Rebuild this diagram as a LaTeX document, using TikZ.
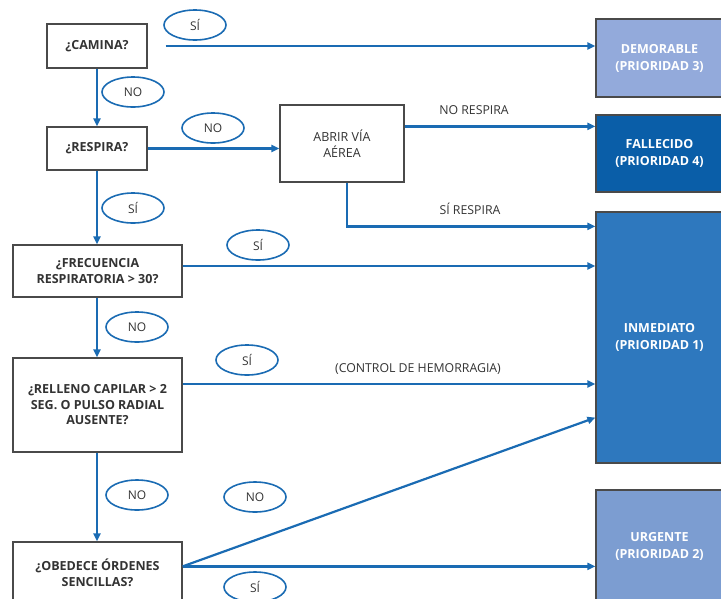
\documentclass[tikz,border=0pt]{standalone}
\usepackage{fontspec}
\setmainfont{Open Sans}
\usetikzlibrary{arrows.meta,shapes.geometric,calc}
\definecolor{flow}{HTML}{1A6BB3}
\definecolor{edge}{HTML}{4A4A4A}
\definecolor{ink}{HTML}{333333}
\definecolor{prioA}{HTML}{2E78BE}
\definecolor{prioB}{HTML}{7C9DD1}
\definecolor{prioC}{HTML}{93AADB}
\definecolor{prioD}{HTML}{0A5EA8}
\begin{document}
\begin{tikzpicture}[x=1pt,y=-1pt,
  question/.style={draw=edge, line width=1.2pt, fill=white, align=center,
    inner sep=0pt, text=ink, font=\fontsize{12.5}{15.5}\selectfont\bfseries},
  action/.style={question, font=\fontsize{12.5}{16}\selectfont},
  outcome/.style={draw=edge, line width=1.2pt, align=center, inner sep=0pt,
    text=white, minimum width=127pt, font=\fontsize{12.5}{17}\selectfont\bfseries},
  answer/.style={ellipse, draw=flow, line width=1.6pt, minimum width=62pt,
    minimum height=30pt, inner sep=0pt, text=ink, font=\fontsize{12}{14}\selectfont},
  note/.style={text=ink, inner sep=0pt, font=\fontsize{12.3}{14}\selectfont},
  flowline/.style={draw=flow, line width=2.2pt, -{Triangle[length=8pt,width=7pt]}}]
\useasboundingbox (0,0) rectangle (721,598);

% decision boxes on the left
\node[question, minimum width=100pt, minimum height=44pt] (camina) at (97,46) {¿CAMINA?};
\node[question, minimum width=100pt, minimum height=43pt] (respira) at (97,148.5) {¿RESPIRA?};
\node[action, minimum width=124pt, minimum height=77pt] (abrir) at (342,143.5) {ABRIR VÍA\\AÉREA};
\node[question, minimum width=169pt, minimum height=52pt] (frec) at (97.5,271) {¿FRECUENCIA\\RESPIRATORIA > 30?};
\node[question, minimum width=169pt, minimum height=94pt] (relleno) at (97.5,405) {¿RELLENO CAPILAR > 2\\SEG. O PULSO RADIAL\\AUSENTE?};
\node[question, minimum width=169pt, minimum height=62pt] (obedece) at (97.5,573) {¿OBEDECE ÓRDENES\\SENCILLAS?};

% priority boxes on the right
\node[outcome, fill=prioC, minimum height=78pt] (demorable) at (659.5,58) {DEMORABLE\\(PRIORIDAD 3)};
\node[outcome, fill=prioD, minimum height=77pt] (fallecido) at (659.5,153.5) {FALLECIDO\\(PRIORIDAD 4)};
\node[outcome, fill=prioA, minimum height=251pt] (inmediato) at (659.5,337.5) {INMEDIATO\\(PRIORIDAD 1)};
\node[outcome, fill=prioB, minimum height=112pt] (urgente) at (659.5,546) {URGENTE\\(PRIORIDAD 2)};

% connectors
\coordinate (caminaSi) at ($(camina.east)+(18,0)$);
\draw[flowline] (caminaSi) -- (demorable.west |- caminaSi);
\draw[flowline] (camina.south) -- (respira.north);
\draw[flowline] (respira.east) -- (abrir.west |- respira.east);
\coordinate (abrirNo) at ($(abrir.north east)+(0,22)$);
\draw[flowline] (abrirNo) -- (fallecido.west |- abrirNo);
\coordinate (abrirSi) at ($(abrir.south)+(5,0)$);
\coordinate (inmA) at ($(inmediato.north west)+(0,15)$);
\draw[flowline] (abrirSi) |- (inmA);
\draw[flowline] (respira.south) -- (respira.south |- frec.north);
\coordinate (frecSi) at ($(frec.east)+(0,-5)$);
\draw[flowline] (frecSi) -- (inmediato.west |- frecSi);
\draw[flowline] (frec.south -| respira.south) -- (respira.south |- relleno.north);
\coordinate (rellenoSi) at ($(relleno.east)+(0,-21)$);
\draw[flowline] (rellenoSi) -- (inmediato.west |- rellenoSi);
\draw[flowline] (relleno.south -| respira.south) -- (respira.south |- obedece.north);
\coordinate (obedeceOut) at ($(obedece.north east)+(0,25)$);
\coordinate (inmB) at ($(inmediato.south west)+(0,-46)$);
\draw[flowline] (obedeceOut) -- (inmB);
\draw[flowline] (obedeceOut) -- (urgente.west |- obedeceOut);

% answer tags
\node[answer] (tagA) at (195,25) {SÍ};
\node[answer] (tagB) at (133,92) {NO};
\node[answer] (tagC) at (213,128) {NO};
\node[answer] (tagD) at (133,208) {SÍ};
\node[answer] (tagE) at (258,245) {SÍ};
\node[answer] (tagF) at (137,327) {NO};
\node[answer] (tagG) at (247,360) {SÍ};
\node[answer] (tagH) at (137,495) {NO};
\node[answer] (tagI) at (255,497) {NO};
\node[answer] (tagJ) at (255,587) {SÍ};

% line notes
\node[note] (noteA) at (474,110) {NO RESPIRA};
\node[note] (noteB) at (470,209) {SÍ RESPIRA};
\node[note] (noteC) at (418,369) {(CONTROL DE HEMORRAGIA)};
\end{tikzpicture}
\end{document}
